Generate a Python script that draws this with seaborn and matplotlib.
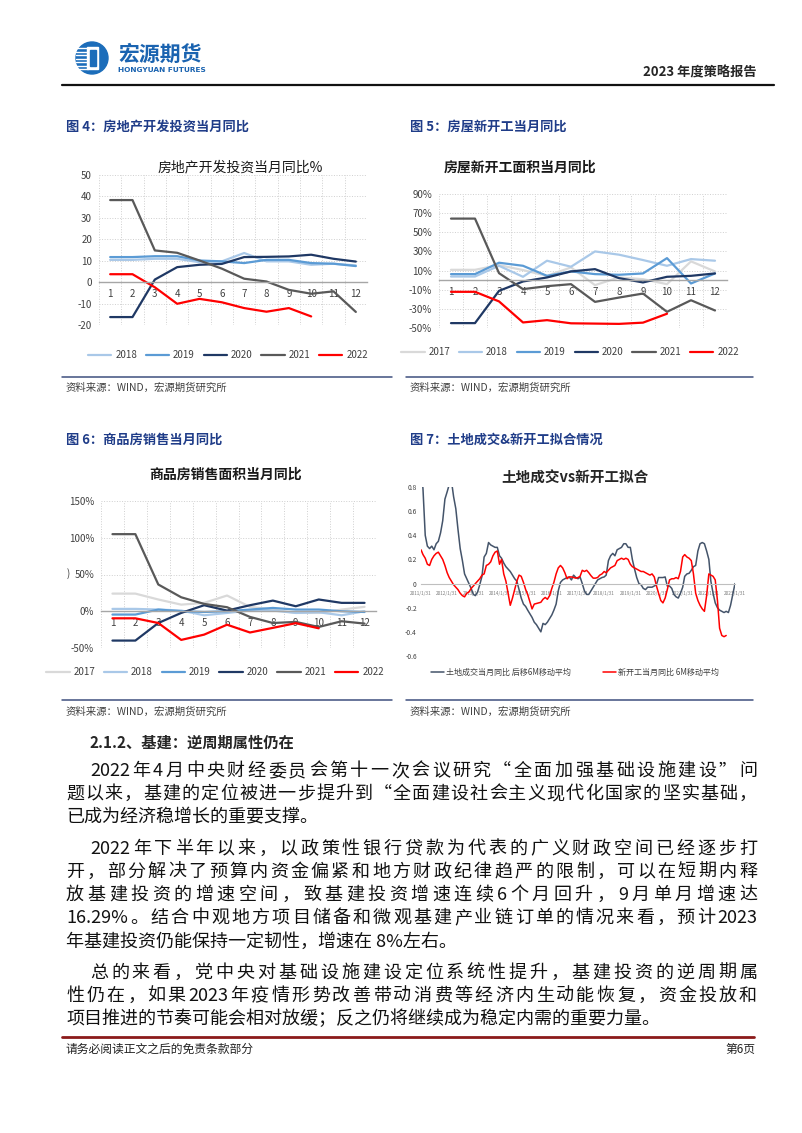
import re
import numpy as np
import pandas as pd
import matplotlib
matplotlib.use('Agg')
import matplotlib.pyplot as plt
from matplotlib.lines import Line2D
from matplotlib.patches import Circle, Rectangle
import seaborn as sns

W, H = 802, 1133

# ---- 图4 房地产开发投资当月同比 (%)
inv_years = ['2018', '2019', '2020', '2021', '2022']
inv_2018 = [10.4, 10.4, 10.9, 10.9, 9.3, 9.7, 13.6, 9.7, 9.7, 8.1, 8.6, 7.8]
inv_2019 = [11.7, 11.7, 12.1, 12.1, 10.1, 9.7, 8.9, 10.4, 10.4, 8.9, 8.6, 7.5]
inv_2020 = [-16.3, -16.3, 1.2, 7.0, 8.1, 8.5, 11.7, 11.8, 12.0, 12.8, 10.9, 9.6]
inv_2021 = [38.3, 38.3, 14.8, 13.7, 10.1, 6.3, 1.6, 0.3, -3.6, -5.4, -4.3, -13.9]
inv_2022 = [3.7, 3.7, -2.4, -10.1, -7.8, -9.4, -12.1, -13.8, -12.1, -16.0]

# ---- 图5 房屋新开工面积当月同比 (%)
ns_years = ['2017', '2018', '2019', '2020', '2021', '2022']
ns_2017 = [10.8, 10.8, 15.7, 10.5, 4.5, 13.3, -5.2, 2.8, 1.0, -4.2, 19.6, 9.1]
ns_2018 = [3.8, 3.8, 15.0, 3.5, 20.3, 14.0, 30.0, 26.6, 21.0, 15.0, 22.0, 20.3]
ns_2019 = [6.3, 6.3, 18.2, 15.0, 4.5, 9.1, 6.3, 5.6, 7.0, 23.0, -3.5, 7.0]
ns_2020 = [-44.9, -44.9, -11.2, -1.4, 2.8, 9.1, 11.5, 2.1, -2.4, 3.5, 4.5, 7.0]
ns_2021 = [64.3, 64.3, 7.3, -9.4, -6.3, -4.2, -22.7, -18.2, -14.0, -33.1, -21.0, -31.7]
ns_2022 = [-12.2, -12.2, -22.2, -44.2, -41.8, -45.1, -45.4, -45.7, -44.4, -35.1]

# ---- 图6 商品房销售面积当月同比 (%)
sa_years = ['2017', '2018', '2019', '2020', '2021', '2022']
sa_2017 = [24.0, 24.0, 16.0, 9.0, 11.4, 21.4, 6.0, 2.3, -2.3, -2.3, 2.3, 6.0]
sa_2018 = [3.2, 3.2, 2.3, 1.0, -5.5, -2.3, 1.0, 1.0, -2.3, -1.4, -5.5, 0.0]
sa_2019 = [-4.5, -4.5, 2.3, 0.0, -1.0, 0.0, 2.3, 4.5, 2.3, 2.3, 0.0, -1.0]
sa_2020 = [-39.9, -39.9, -16.0, -2.3, 8.2, 0.9, 8.2, 14.5, 6.8, 16.0, 11.4, 11.4]
sa_2021 = [104.9, 104.9, 36.4, 19.0, 10.0, 5.5, -7.7, -16.0, -14.5, -21.4, -13.6, -16.8]
sa_2022 = [-9.6, -9.6, -16.0, -39.0, -31.8, -18.3, -28.9, -22.6, -16.2, -23.2]

# ---- 图7 土地成交vs新开工拟合 (monthly from 2011-01)
land = [1.00, 0.78, 0.40, 0.31, 0.29, 0.31, 0.28, 0.33, 0.35, 0.42, 0.52, 0.70,
        0.76, 0.82, 0.85, 0.72, 0.62, 0.45, 0.29, 0.19, 0.08, 0.04, 0.00, -0.04,
        -0.09, -0.10, -0.07, -0.01, 0.06, 0.22, 0.25, 0.34, 0.32, 0.31, 0.30, 0.30,
        0.23, 0.21, 0.17, 0.14, 0.12, 0.10, 0.07, 0.04, 0.02, -0.05, -0.12, -0.17,
        -0.19, -0.22, -0.25, -0.28, -0.32, -0.34, -0.37, -0.40, -0.33, -0.34, -0.32, -0.29,
        -0.26, -0.22, -0.17, -0.06, 0.01, 0.03, 0.04, 0.05, 0.055, 0.03, 0.07, 0.05,
        0.04, 0.055, 0.00, -0.06, -0.09, -0.09, -0.06, -0.03, 0.00, 0.03, 0.04, 0.05,
        0.055, 0.07, 0.19, 0.23, 0.25, 0.23, 0.28, 0.29, 0.30, 0.33, 0.33, 0.30,
        0.30, 0.20, 0.12, 0.05, 0.00, -0.01, -0.04, -0.05, -0.03, -0.03, -0.03, -0.02,
        -0.01, 0.05, 0.05, 0.05, 0.055, -0.02, -0.02, -0.04, -0.09, -0.11, -0.12, -0.08,
        -0.03, 0.06, 0.08, 0.085, 0.11, 0.14, 0.15, 0.27, 0.33, 0.34, 0.33, 0.27,
        0.20, 0.02, -0.08, -0.16, -0.20, -0.22, -0.23, -0.24, -0.23, -0.24, -0.18, -0.09,
        0.00]
starts = [0.28, 0.24, 0.21, 0.16, 0.15, 0.20, 0.23, 0.25, 0.26, 0.23, 0.20, 0.15,
          0.09, 0.05, 0.02, -0.01, -0.03, -0.05, -0.08, -0.10, -0.11, -0.08, -0.07, -0.04,
          -0.02, 0.00, 0.02, 0.04, 0.07, 0.08, 0.15, 0.16, 0.18, 0.23, 0.26, 0.27,
          0.16, 0.20, 0.08, 0.02, -0.08, -0.18, -0.12, -0.05, 0.02, 0.07, 0.06, 0.01,
          -0.05, -0.09, -0.15, -0.21, -0.17, -0.165, -0.16, -0.155, -0.13, -0.115, -0.13, -0.10,
          -0.04, 0.01, 0.08, 0.13, 0.15, 0.13, 0.09, 0.04, 0.055, 0.055, 0.05, 0.045,
          0.05, 0.06, 0.11, 0.10, 0.11, 0.09, 0.065, 0.045, 0.045, 0.05, 0.07, 0.08,
          0.10, 0.09, 0.11, 0.13, 0.14, 0.15, 0.19, 0.20, 0.21, 0.20, 0.21, 0.20,
          0.16, 0.14, 0.13, 0.12, 0.11, 0.10, 0.10, 0.09, 0.08, 0.07, 0.08, 0.055,
          -0.02, -0.08, -0.14, -0.16, -0.12, -0.05, 0.03, 0.04, 0.04, 0.05, 0.04, 0.10,
          0.22, 0.24, 0.22, 0.21, 0.19, 0.08, -0.08, -0.14, -0.18, -0.21, -0.23, -0.10,
          0.08, 0.07, 0.06, 0.03, -0.14, -0.37, -0.43, -0.44, -0.43]

year_colors = {'2017': '#D9D9D9', '2018': '#A9C8E8', '2019': '#5B9BD5',
               '2020': '#1F3864', '2021': '#595959', '2022': '#FF0000'}

sns.set_style('white')
plt.rcParams['font.family'] = ['Noto Sans CJK SC', 'DejaVu Sans']
plt.rcParams['axes.unicode_minus'] = False

fig = plt.figure(figsize=(W / 100, H / 100), dpi=100)


def rect(x0, y0, x1, y1):
    return [x0 / W, 1 - y1 / H, (x1 - x0) / W, (y1 - y0) / H]


def T(x, y, s, **kw):
    return fig.text(x / W, 1 - y / H, s, **kw)


def hline(x0, x1, y, color, lw):
    fig.add_artist(Line2D([x0 / W, x1 / W], [1 - y / H, 1 - y / H], color=color, lw=lw))


def month_chart(box, years, series, ylim, yticks, fmt, title, title_xy, title_bold, leg_xy):
    ax = fig.add_axes(rect(*box))
    rows = [(yr, m + 1, v) for yr, vals in zip(years, series) for m, v in enumerate(vals)]
    df = pd.DataFrame(rows, columns=['year', 'month', 'value'])
    sns.lineplot(data=df, x='month', y='value', hue='year', palette=year_colors,
                 hue_order=years, lw=1.6, ax=ax, legend=False)
    ax.set_xlim(0.5, 12.5)
    ax.set_ylim(*ylim)
    ax.set_yticks(yticks)
    ax.set_yticklabels([fmt(v) for v in yticks])
    ax.set_xticks(range(1, 13))
    ax.set_xticks(np.arange(0.5, 13, 1), minor=True)
    ax.set_xlabel('')
    ax.set_ylabel('')
    for s in ['top', 'right', 'left']:
        ax.spines[s].set_visible(False)
    ax.spines['bottom'].set_position(('data', 0))
    ax.spines['bottom'].set_color('#A6A6A6')
    ax.spines['bottom'].set_linewidth(1.0)
    ax.grid(which='minor', axis='x', ls=':', color='#CFCFCF', lw=0.7)
    ax.grid(which='major', axis='y', ls=':', color='#CFCFCF', lw=0.7)
    ax.grid(which='major', axis='x', visible=False)
    ax.tick_params(axis='both', which='both', length=0, labelsize=7, colors='#404040', pad=5)
    ax.set_axisbelow(True)
    T(title_xy[0], title_xy[1], title, fontsize=10, ha='center', va='center',
      fontweight='bold' if title_bold else 'normal', color='#1A1A1A')
    handles = [Line2D([], [], color=year_colors[y], lw=1.6) for y in years]
    fig.legend(handles, years, loc='center', bbox_to_anchor=(leg_xy[0] / W, 1 - leg_xy[1] / H),
               ncol=len(years), frameon=False, fontsize=7, handlelength=2.4,
               columnspacing=0.9, handletextpad=0.4, labelcolor='#404040')
    return ax


# ---------------- header
logo = fig.add_axes(rect(74, 40, 110, 76))
logo.set_xlim(0, 36)
logo.set_ylim(36, 0)
logo.axis('off')
logo.add_patch(Circle((18, 18), 16, color='#1C6DBA'))
for yy in [8, 11.5, 15, 18.5, 22, 25.5, 29]:
    logo.plot([2, 14], [yy, yy], color='white', lw=1.0)
logo.add_patch(Rectangle((13, 7), 11, 22, color='white'))
logo.add_patch(Rectangle((15.5, 10), 6, 16, color='#1C6DBA'))
T(118, 54, '宏源期货', fontsize=15, fontweight='bold', color='#1A63B0', va='center')
T(118, 70, 'HONGYUAN FUTURES', fontsize=5.3, fontweight='bold', color='#1A63B0',
  va='center', family='DejaVu Sans')
T(757, 72, '2023 年度策略报告', fontsize=9.5, fontweight='bold', ha='right', va='center')
hline(62, 774, 85, '#111111', 1.6)

cap_color = '#1F3C88'
T(66, 127, '图 4：房地产开发投资当月同比', fontsize=9.5, fontweight='bold', color=cap_color, va='center')
T(410, 127, '图 5：房屋新开工当月同比', fontsize=9.5, fontweight='bold', color=cap_color, va='center')
T(66, 440, '图 6：商品房销售当月同比', fontsize=9.5, fontweight='bold', color=cap_color, va='center')
T(410, 440, '图 7：土地成交&新开工拟合情况', fontsize=9.5, fontweight='bold', color=cap_color, va='center')

# ---------------- charts 4-6
month_chart((99, 175, 367, 325), inv_years, [inv_2018, inv_2019, inv_2020, inv_2021, inv_2022],
            (-20, 50), list(range(50, -21, -10)), lambda v: f'{v}',
            '房地产开发投资当月同比%', (240, 167), False, (228, 355))

month_chart((439, 194, 727, 328), ns_years, [ns_2017, ns_2018, ns_2019, ns_2020, ns_2021, ns_2022],
            (-50, 90), list(range(90, -51, -20)), lambda v: f'{v}%',
            '房屋新开工面积当月同比', (520, 168), True, (570, 352))

month_chart((101, 501, 376, 648), sa_years, [sa_2017, sa_2018, sa_2019, sa_2020, sa_2021, sa_2022],
            (-50, 150), list(range(150, -51, -50)), lambda v: f'{v}%',
            '商品房销售面积当月同比', (226, 475), True, (215, 672))
T(67, 574, ')', fontsize=7, color='#404040', va='center')

# ---------------- chart 7
ax4 = fig.add_axes(rect(421, 487, 735, 656))
dates_land = pd.date_range('2011-01-31', periods=len(land), freq='ME')
dates_starts = pd.date_range('2011-01-31', periods=len(starts), freq='ME')
fit = pd.concat([
    pd.DataFrame({'date': dates_land, 'value': land, 'series': '土地成交当月同比 后移6M移动平均'}),
    pd.DataFrame({'date': dates_starts, 'value': starts, 'series': '新开工当月同比 6M移动平均'}),
])
fit_colors = {'土地成交当月同比 后移6M移动平均': '#44546A', '新开工当月同比 6M移动平均': '#FF0000'}
sns.lineplot(data=fit, x='date', y='value', hue='series', palette=fit_colors, lw=1.1,
             ax=ax4, legend=False)
ax4.set_xlim(pd.Timestamp('2011-01-31'), pd.Timestamp('2023-01-31'))
ax4.set_ylim(-0.6, 0.8)
yt = [0.8, 0.6, 0.4, 0.2, 0, -0.2, -0.4, -0.6]
ax4.set_yticks(yt)
ax4.set_yticklabels([f'{v:g}' for v in yt])
xt_years = list(range(2011, 2024))
ax4.set_xticks([pd.Timestamp(f'{y}-01-31') for y in xt_years])
ax4.set_xticklabels([f'{y}/1/31' for y in xt_years])
ax4.set_xlabel('')
ax4.set_ylabel('')
for s in ['top', 'right', 'left']:
    ax4.spines[s].set_visible(False)
ax4.spines['bottom'].set_position(('data', 0))
ax4.spines['bottom'].set_color('#BFBFBF')
ax4.spines['bottom'].set_linewidth(0.8)
ax4.tick_params(axis='y', length=0, labelsize=4.8, colors='#404040', pad=3)
ax4.tick_params(axis='x', length=0, labelsize=3.4, colors='#7F7F7F', pad=5)
T(575, 478, '土地成交vs新开工拟合', fontsize=10.5, fontweight='bold', ha='center', va='center')
fig.legend([Line2D([], [], color=c, lw=1.1) for c in fit_colors.values()], list(fit_colors.keys()),
           loc='center', bbox_to_anchor=(575 / W, 1 - 672 / H), ncol=2, frameon=False,
           fontsize=5.8, handlelength=1.6, columnspacing=4.0, handletextpad=0.3, labelcolor='#404040')

# ---------------- source lines
for y_line, y_src in [(377, 388), (700, 712)]:
    hline(62, 392, y_line, '#3F4F7F', 1.1)
    hline(406, 753, y_line, '#3F4F7F', 1.1)
    T(66, y_src, '资料来源：WIND，宏源期货研究所', fontsize=7.5, style='italic', color='#404040', va='center')
    T(410, y_src, '资料来源：WIND，宏源期货研究所', fontsize=7.5, style='italic', color='#404040', va='center')

# ---------------- body text
T(90, 743, '2.1.2、基建：逆周期属性仍在', fontsize=11, fontweight='bold', va='center')

renderer = fig.canvas.get_renderer()


def put_line(x0, y, s, x1=None, fs=13.0):
    if x1 is None:
        T(x0, y, s, fontsize=fs, va='center', color='#111111')
        return
    toks = re.findall(r'[A-Za-z0-9.%]+|\S', s)
    arts = [T(0, y, t, fontsize=fs, va='center', color='#111111') for t in toks]
    ws = [a.get_window_extent(renderer).width for a in arts]
    gap = (x1 - x0 - sum(ws)) / (len(toks) - 1)
    x = x0
    for a, w in zip(arts, ws):
        a.set_x(x / W)
        x += w + gap


R = 757
body = [
    (90, 771, '2022 年 4 月中央财经委员会第十一次会议研究“全面加强基础设施建设”问', R),
    (66, 794, '题以来，基建的定位被进一步提升到“全面建设社会主义现代化国家的坚实基础，', R),
    (66, 817, '已成为经济稳增长的重要支撑。', None),
    (90, 849, '2022 年下半年以来，以政策性银行贷款为代表的广义财政空间已经逐步打', R),
    (66, 872, '开，部分解决了预算内资金偏紧和地方财政纪律趋严的限制，可以在短期内释', R),
    (66, 895, '放基建投资的增速空间，致基建投资增速连续 6 个月回升，9 月单月增速达', R),
    (66, 918, '16.29%。结合中观地方项目储备和微观基建产业链订单的情况来看，预计 2023', R),
    (66, 942, '年基建投资仍能保持一定韧性，增速在 8%左右。', None),
    (90, 973, '总的来看，党中央对基础设施建设定位系统性提升，基建投资的逆周期属', R),
    (66, 996, '性仍在，如果 2023 年疫情形势改善带动消费等经济内生动能恢复，资金投放和', R),
    (66, 1019, '项目推进的节奏可能会相对放缓；反之仍将继续成为稳定内需的重要力量。', None),
]
for x0, y, s, x1 in body:
    put_line(x0, y, s, x1)

# ---------------- footer
hline(62, 754, 1037, '#8B1A1A', 2.0)
T(66, 1049, '请务必阅读正文之后的免责条款部分', fontsize=8.5, va='center', color='#222222')
T(755, 1049, '第6页', fontsize=8.5, va='center', ha='right', color='#222222')

fig.savefig('out.png', dpi=100)
